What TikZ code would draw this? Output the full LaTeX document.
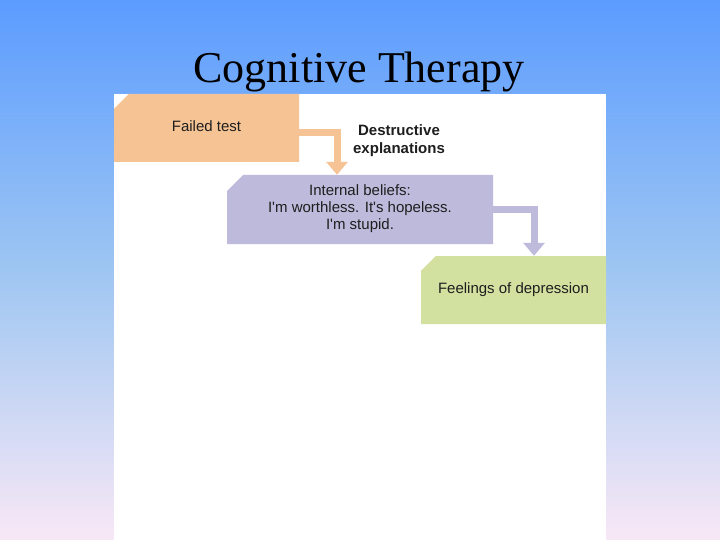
\documentclass[tikz,border=0pt]{standalone}
\usepackage{fontspec}
\setmainfont{Liberation Serif}
\newfontfamily\boxfont{Liberation Sans}
\usetikzlibrary{shapes.misc,arrows.meta,calc}
\definecolor{bgtop}{RGB}{92,156,255}
\definecolor{bgmid}{RGB}{158,198,242}
\definecolor{bgbot}{RGB}{248,232,246}
\definecolor{orangebox}{RGB}{246,196,148}
\definecolor{purplebox}{RGB}{190,186,220}
\definecolor{greenbox}{RGB}{210,225,160}
\definecolor{boxtext}{RGB}{30,30,30}
\tikzset{
  stagebox/.style={chamfered rectangle, chamfered rectangle corners=north west,
    chamfered rectangle xsep=8pt, chamfered rectangle ysep=8pt,
    draw=none, inner sep=0pt, text=boxtext, font=\boxfont\fontsize{15}{17}\selectfont, align=center},
  bandarrow/.style={line width=7pt, -{Triangle[width=21pt,length=13pt]}},
}
\begin{document}
\begin{tikzpicture}[x=1pt,y=-1pt]
\useasboundingbox (0,0) rectangle (720,540);
\shade[top color=bgtop, bottom color=bgbot, middle color=bgmid, shading angle=0] (0,0) rectangle (720,540);
\fill[white] (114,94) rectangle (606,540);
\node[font=\fontsize{44}{48}\selectfont, anchor=base] (title) at (359,83) {Cognitive Therapy};
\node[stagebox, fill=orangebox, minimum width=185pt, minimum height=68pt] (failed) at (206.5,128) {\raisebox{3pt}{Failed test}};
\node[stagebox, fill=purplebox, minimum width=266pt, minimum height=69pt] (beliefs) at (360,209.5) {\raisebox{-2pt}{\begin{tabular}{@{}c@{}}Internal beliefs:\\I'm worthless. It's hopeless.\\I'm stupid.\end{tabular}}};
\node[stagebox, fill=greenbox, minimum width=185pt, minimum height=68pt] (feel) at (513.5,290) {\raisebox{2pt}{Feelings of depression}};
\node[font=\boxfont\bfseries\fontsize{15}{18}\selectfont, align=center, text=boxtext] (destr) at (399,141) {Destructive\\explanations};
\coordinate (a1) at ($(failed.east)+(0,5)$);
\coordinate (a2) at (337,0);
\draw[bandarrow, draw=orangebox] (a1) -| (a2 |- beliefs.north);
\coordinate (b1) at ($(beliefs.east)+(0,0)$);
\coordinate (b2) at (534,0);
\draw[bandarrow, draw=purplebox] (b1) -| (b2 |- feel.north);
\end{tikzpicture}
\end{document}
